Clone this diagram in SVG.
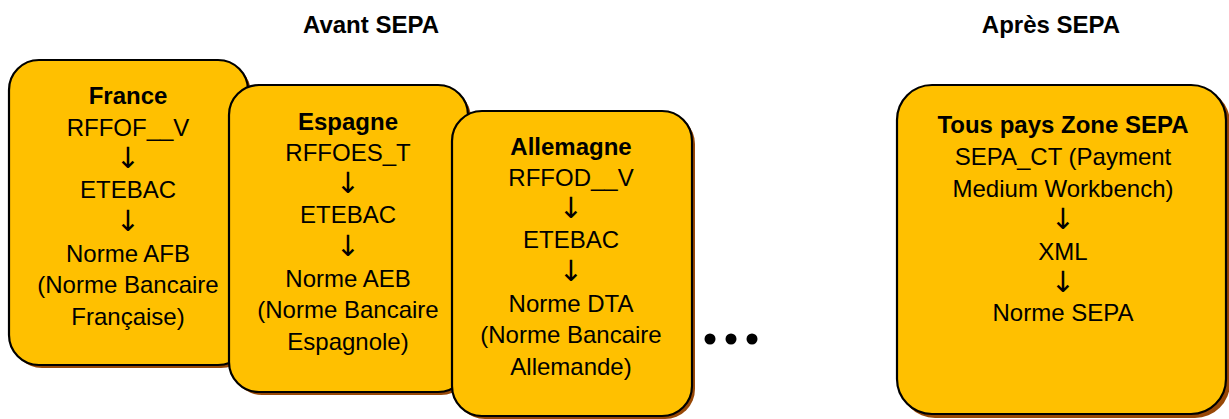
<svg xmlns="http://www.w3.org/2000/svg" width="1229" height="419" viewBox="0 0 1229 419">
<style>
text{font-family:"Liberation Sans",Arial,sans-serif;font-size:24px;fill:#000;text-anchor:middle}
.b{font-weight:bold}
.h{font-weight:bold;font-size:24px}
.a{font-family:"DejaVu Sans",sans-serif;font-size:29px}
.box{fill:#FFC000;stroke:#000;stroke-width:2.2}
.sh{fill:#984806}
</style>
<rect width="1229" height="419" fill="#fff"/>
<text class="h" x="371" y="33">Avant SEPA</text>
<text class="h" x="1051" y="33">Après SEPA</text>
<g id="france">
<rect class="sh" x="12" y="63" width="239" height="305" rx="30"/>
<rect class="box" x="9" y="60" width="239" height="305" rx="30"/>
<text class="b" x="128" y="104">France</text>
<text x="128" y="136">RFFOF__V</text>
<text class="a" x="128" y="168">↓&#xFE0E;</text>
<text x="128" y="198">ETEBAC</text>
<text class="a" x="128" y="231">↓&#xFE0E;</text>
<text x="128" y="262">Norme AFB</text>
<text x="128" y="293">(Norme Bancaire</text>
<text x="128" y="325">Française)</text>
</g>
<g id="espagne">
<rect class="sh" x="232" y="88" width="239" height="307" rx="30"/>
<rect class="box" x="229" y="85" width="239" height="307" rx="30"/>
<text class="b" x="348" y="130">Espagne</text>
<text x="348" y="161">RFFOES_T</text>
<text class="a" x="348" y="193">↓&#xFE0E;</text>
<text x="348" y="223">ETEBAC</text>
<text class="a" x="348" y="256">↓&#xFE0E;</text>
<text x="348" y="287">Norme AEB</text>
<text x="348" y="318">(Norme Bancaire</text>
<text x="348" y="350">Espagnole)</text>
</g>
<g id="allemagne">
<rect class="sh" x="455" y="114" width="240" height="305" rx="30"/>
<rect class="box" x="452" y="111" width="240" height="305" rx="30"/>
<text class="b" x="571" y="155">Allemagne</text>
<text x="571" y="186">RFFOD__V</text>
<text class="a" x="571" y="218">↓&#xFE0E;</text>
<text x="571" y="248">ETEBAC</text>
<text class="a" x="571" y="281">↓&#xFE0E;</text>
<text x="571" y="312">Norme DTA</text>
<text x="571" y="343">(Norme Bancaire</text>
<text x="571" y="375">Allemande)</text>
</g>
<g id="ellipsis">
<circle cx="710" cy="339" r="5.5"/>
<circle cx="731" cy="339" r="5.5"/>
<circle cx="752" cy="339" r="5.5"/>
</g>
<g id="sepa">
<rect class="sh" x="900" y="88" width="330" height="330" rx="35"/>
<rect class="box" x="897" y="85" width="329" height="329" rx="35"/>
<text class="b" x="1063" y="133">Tous pays Zone SEPA</text>
<text x="1063" y="165">SEPA_CT (Payment</text>
<text x="1063" y="197">Medium Workbench)</text>
<text class="a" x="1063" y="229">↓&#xFE0E;</text>
<text x="1063" y="260">XML</text>
<text class="a" x="1063" y="292">↓&#xFE0E;</text>
<text x="1063" y="321">Norme SEPA</text>
</g>
<g id="connectors"/>
</svg>
